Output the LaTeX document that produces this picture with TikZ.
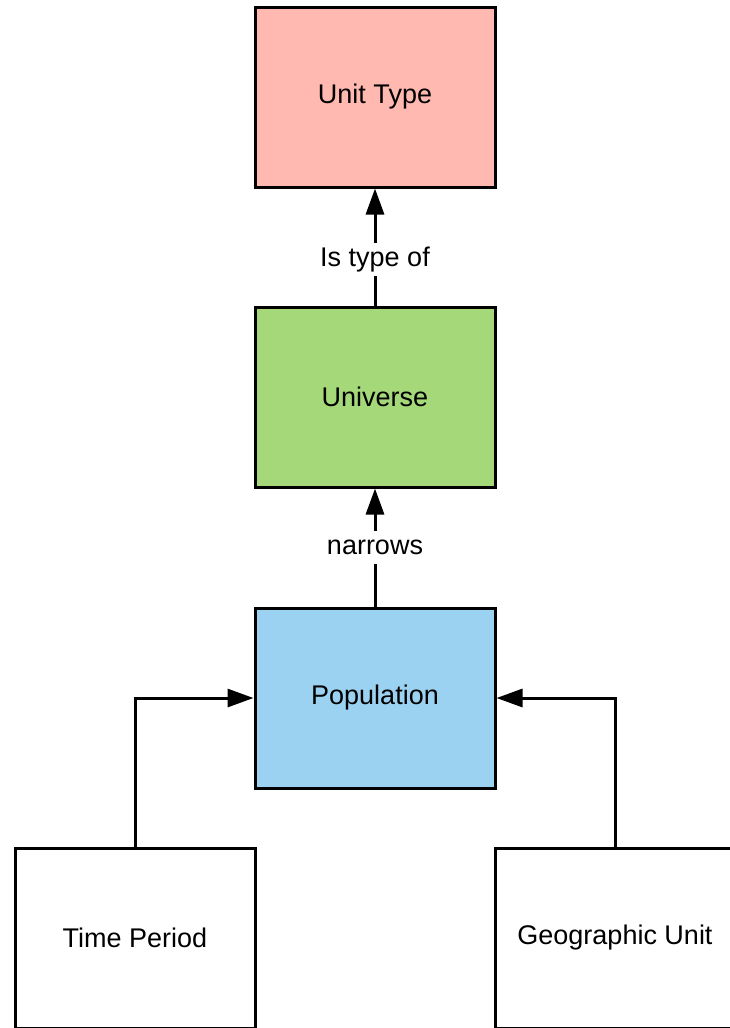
\documentclass[tikz,border=0pt]{standalone}
\usepackage{fontspec}
\setmainfont{Liberation Sans}
\usetikzlibrary{arrows.meta}
\definecolor{salmon}{RGB}{255,185,177}
\definecolor{leaf}{RGB}{165,216,120}
\definecolor{sky}{RGB}{155,210,242}
\tikzset{
  entity/.style={draw=black, line width=3pt, minimum width=240pt, minimum height=180pt,
    inner sep=0pt, font=\fontsize{27}{32}\selectfont},
  link/.style={line width=3pt, -{Triangle[length=26pt,width=18pt]}},
  linklabel/.style={fill=white, inner xsep=3pt, inner ysep=5pt, text height=18pt,
    text depth=5pt, font=\fontsize{27}{32}\selectfont}
}
\begin{document}
\begin{tikzpicture}[x=1pt,y=-1pt]
  \useasboundingbox (0,0) rectangle (729,1028);
  \node[entity, fill=salmon] (unittype) at (375,97) {Unit Type};
  \node[entity, fill=leaf] (universe) at (375,397) {Universe};
  \node[entity, fill=sky] (population) at (375,698) {Population};
  \node[entity, fill=white] (timeperiod) at (135,938) {Time Period};
  \node[entity, fill=white] (geounit) at (615,938) {Geographic Unit};

  \draw[link] (universe.north) -- node[linklabel, pos=0.39] {Is type of} (unittype.south);
  \draw[link] (population.north) -- node[linklabel, pos=0.5] {narrows} (universe.south);
  \draw[link] (timeperiod.north) |- (population.west);
  \draw[link] (geounit.north) |- (population.east);
\end{tikzpicture}
\end{document}
